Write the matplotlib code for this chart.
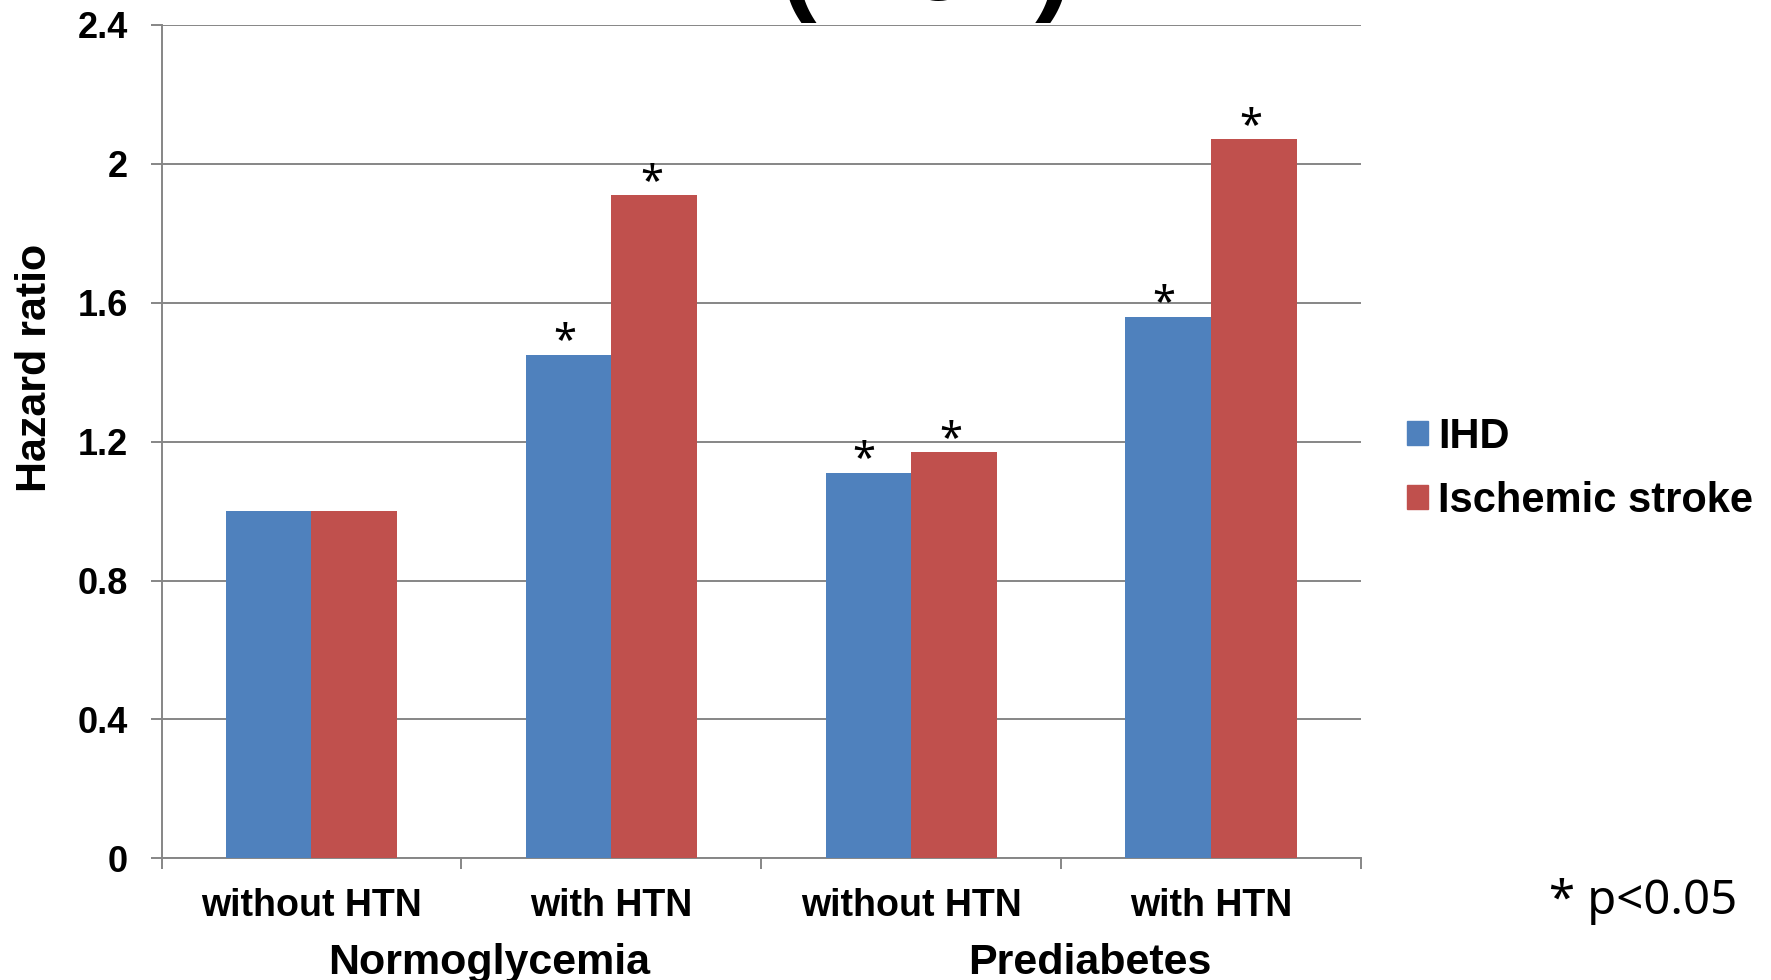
import numpy as np
import matplotlib
matplotlib.use("Agg")
import matplotlib.pyplot as plt
from matplotlib.patches import Patch

# data
categories = ["without HTN", "with HTN", "without HTN", "with HTN"]
groups = ["Normoglycemia", "Prediabetes"]
ihd = [1.0, 1.45, 1.11, 1.56]
stroke = [1.0, 1.91, 1.17, 2.07]
ihd_sig = [False, True, True, True]
stroke_sig = [False, True, True, True]
yticks = [0, 0.4, 0.8, 1.2, 1.6, 2.0, 2.4]
ytick_labels = ["0", "0.4", "0.8", "1.2", "1.6", "2", "2.4"]

blue = "#4F81BD"
red = "#C0504D"
grey = "#868686"
bold_font = ["Liberation Sans", "DejaVu Sans"]
plain_font = ["Noto Sans", "DejaVu Sans"]

fig = plt.figure(figsize=(17.71, 9.8), dpi=100)
ax = fig.add_axes([161.5 / 1771, 1 - 858.4 / 980, (1361 - 161.5) / 1771, (858.4 - 24.8) / 980])

x = np.arange(len(categories))
w = 1 / 3.5  # excel gap width 150%
ax.bar(x - w / 2, ihd, w, color=blue, zorder=3)
ax.bar(x + w / 2, stroke, w, color=red, zorder=3)

# significance stars
for i in range(len(categories)):
    if ihd_sig[i]:
        ax.annotate("*", (x[i] - w / 2, ihd[i]), xytext=(-3, 1), textcoords="offset points",
                    ha="center", va="baseline", fontsize=30, family=plain_font)
    if stroke_sig[i]:
        ax.annotate("*", (x[i] + w / 2, stroke[i]), xytext=(-2, 1), textcoords="offset points",
                    ha="center", va="baseline", fontsize=30, family=plain_font)

ax.set_xlim(-0.5, len(categories) - 0.5)
ax.set_ylim(0, 2.4)

ax.set_yticks(yticks)
ax.set_yticklabels(ytick_labels, fontsize=26, fontweight="bold", family=bold_font)
ax.yaxis.grid(True, color=grey, linewidth=1.4, zorder=0)
ax.tick_params(axis="y", length=8, width=1.4, color=grey, pad=16)

# category boundaries as ticks, labels in the middle
ax.set_xticks(np.arange(-0.5, len(categories), 1.0))
ax.set_xticklabels([])
ax.set_xticks(x, minor=True)
ax.set_xticklabels(categories, minor=True, fontsize=27, fontweight="bold", family=bold_font)
ax.tick_params(axis="x", which="major", length=8, width=1.4, color=grey)
ax.tick_params(axis="x", which="minor", length=0, pad=21)

for side in ["top", "right"]:
    ax.spines[side].set_visible(False)
for side in ["left", "bottom"]:
    ax.spines[side].set_color(grey)
    ax.spines[side].set_linewidth(1.4)

# group labels under the category labels
for g, name in enumerate(groups):
    fig.text((161.5 + (2 * g + 1) * 300 + 28) / 1771, 1 - 974 / 980, name, ha="center", va="baseline",
             fontsize=31, fontweight="bold", family=bold_font)

fig.text(35 / 1771, 1 - 368 / 980, "Hazard ratio", rotation=90, ha="center", va="center",
         fontsize=31, fontweight="bold", family=bold_font)

handles = [Patch(color=blue, label="IHD"), Patch(color=red, label="Ischemic stroke")]
fig.legend(handles=handles, loc="center left", bbox_to_anchor=(1407 / 1771, 1 - 469 / 980),
           frameon=False, borderpad=0, borderaxespad=0, handlelength=0.5, handleheight=0.5,
           handletextpad=0.25, labelspacing=0.57,
           prop={"family": bold_font, "weight": "bold", "size": 30})

fig.text(1643 / 1771, 1 - 914 / 980, "* p<0.05", ha="center", va="baseline", fontsize=34, family=plain_font)

# title sits mostly above the picture, only its bottom shows
fig.text(926 / 1771, 1.0, "(Men)", ha="center", va="baseline", fontsize=79, fontweight="bold", family=bold_font)

fig.savefig("out.png", dpi=100)
